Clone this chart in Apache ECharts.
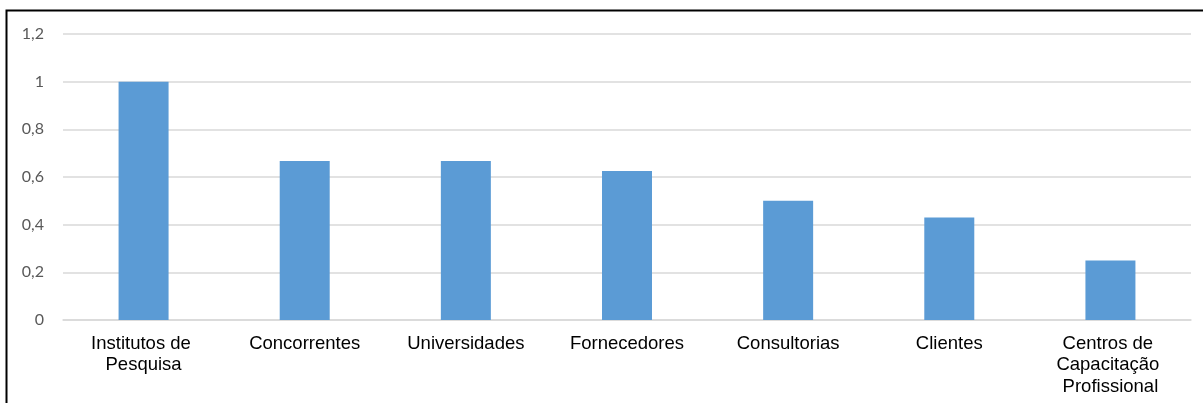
<!DOCTYPE html>
<html>
<head>
<meta charset="utf-8">
<script src="https://cdn.jsdelivr.net/npm/echarts@6/dist/echarts.min.js"></script>
<style>
  html, body { margin: 0; padding: 0; background: #fff; }
  #chart { width: 1203px; height: 403px; }
</style>
</head>
<body>
<div id="chart"></div>
<script>
const categories = [
  'Institutos de Pesquisa',
  'Concorrentes',
  'Universidades',
  'Fornecedores',
  'Consultorias',
  'Clientes',
  'Centros de Capacitação Profissional'
];
const values = [1, 0.667, 0.667, 0.625, 0.5, 0.43, 0.25];
const yTicks = [0, 0.2, 0.4, 0.6, 0.8, 1, 1.2];

const chart = echarts.init(document.getElementById('chart'), null, { renderer: 'canvas' });
chart.setOption({
  animation: false,
  backgroundColor: '#ffffff',
  grid: { left: 63, right: 12, top: 34, bottom: 83, containLabel: false },
  graphic: [{
    type: 'rect',
    shape: { x: 6.5, y: 10.5, width: 1400, height: 600 },
    style: { fill: 'none', stroke: '#000', lineWidth: 2 },
    z: 100
  }],
  xAxis: {
    type: 'category',
    data: categories,
    axisLine: { show: true, lineStyle: { color: '#d9d9d9', width: 1.5 } },
    axisTick: { show: false },
    axisLabel: {
      interval: 0,
      margin: 13,
      color: '#000',
      fontFamily: 'Liberation Sans, Arial, sans-serif',
      fontSize: 18.5,
      lineHeight: 21.5,
      width: 150,
      overflow: 'break',
      align: 'center'
    }
  },
  yAxis: {
    type: 'value',
    min: 0,
    max: 1.2,
    interval: 0.2,
    axisLine: { show: false },
    axisTick: { show: false },
    splitLine: { lineStyle: { color: '#d9d9d9', width: 1.5 } },
    axisLabel: {
      margin: 19,
      color: '#595959',
      fontFamily: 'Lato, "Open Sans", sans-serif',
      fontSize: 16,
      formatter: function (v) {
        const t = yTicks.find(k => Math.abs(k - v) < 1e-9);
        return String(t !== undefined ? t : v).replace('.', ',');
      }
    }
  },
  series: [{
    type: 'bar',
    data: values,
    barWidth: 50,
    itemStyle: { color: '#5b9bd5' }
  }]
});
</script>
</body>
</html>
